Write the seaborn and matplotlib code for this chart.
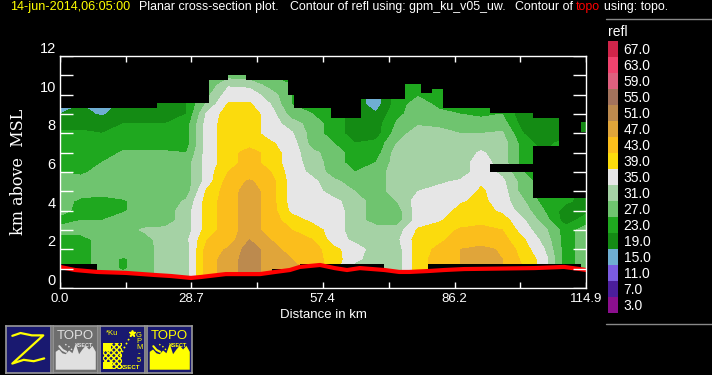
import numpy as np
import pandas as pd
import seaborn as sns
import matplotlib
matplotlib.use("Agg")
import matplotlib.pyplot as plt
from matplotlib.colors import ListedColormap

# legend levels, top to bottom like the colour key
key_levels = [67, 63, 59, 55, 51, 47, 43, 39, 35, 31, 27, 23, 19, 15, 11, 7, 3]
key_colors = ["#D0254A", "#F0436E", "#DE607E", "#A3735C", "#BC8A4E", "#E0A53A", "#FBBE1C", "#FBDB0D",
              "#E6E6E6", "#A5D2A5", "#6FC46F", "#1FA81F", "#148B14", "#6FAED2", "#7B5CE0", "#4B1E9C", "#8B0F8E"]

# reflectivity profiles, one list per distance, heights 0.5 to 11 km
dist_km = [4.6 * i for i in range(26)]
height_km = [0.5 * i for i in range(1, 23)]
refl_profiles = [
    [25, 25, 25, 25, 25, 29, 25, 29, 29, 29, 29, 27, 25, 25, 25, 24, 21, 19, 17, 17, 17, 17],
    [25, 25, 25, 25, 25, 29, 27, 25, 26, 29, 29, 26, 25, 25, 25, 24, 21, 20, 19, 19, 19, 19],
    [29, 29, 29, 29, 29, 29, 27, 25, 25, 29, 29, 29, 27, 25, 25, 23, 21, 18.5, 17, 17, 17, 17],
    [29, 26.5, 26.5, 29, 29, 29.5, 29, 26.5, 26.5, 29, 29, 29, 29, 27.5, 25, 25, 23, 21, 20, 20, 20, 20],
    [29, 29, 29, 29, 29.5, 31.5, 29, 29, 29, 29, 29, 29, 29, 27.5, 25, 25, 23, 21, 21, 21, 21, 21],
    [33, 33, 33, 33, 33, 32, 29, 29, 29, 29, 29, 29, 29, 27.5, 25, 25, 23, 20.5, 20, 20, 20, 20],
    [33, 33, 33, 33, 34, 33, 33, 33, 31.5, 29, 29, 29, 29, 27, 25, 25, 25, 23, 23, 23, 23, 23],
    [45, 45, 45, 45, 43, 41, 41, 41, 41, 40, 37, 37, 37, 37, 37, 37, 37, 36, 32, 30, 28, 28],
    [49, 49, 49, 47.5, 45, 45, 45, 45, 45, 45, 45, 43, 41, 41, 41, 41, 41, 41, 39.5, 37, 34.5, 29],
    [53, 53, 53, 53, 51, 49, 49, 49, 49, 49, 47.5, 45, 45, 45, 41, 41, 41, 41, 39.5, 37, 34, 28],
    [49, 49, 49, 49, 47, 45, 45, 45, 45, 45, 45, 43, 41, 41, 39.5, 37, 37, 37, 35, 33, 29, 27],
    [49, 49, 47, 45, 45, 43, 41, 38, 37, 37, 37, 37, 37, 37, 37, 35.5, 33, 29, 27, 27, 27, 27],
    [45, 45, 45, 45, 43, 41, 38, 37, 37, 37, 36, 34, 33, 32, 29, 29, 29, 27, 25, 25, 25, 25],
    [41, 41, 41, 40, 37, 37, 37, 37, 36, 33, 32, 29, 29, 29, 27, 25, 25, 25, 25, 25, 25, 25],
    [33, 33, 36, 37, 34, 33, 33, 33, 33, 31, 29, 27, 25, 25, 23, 21, 21, 21, 21, 21, 21, 21],
    [33, 33, 33, 33, 33, 33, 29, 29, 29, 29, 29, 29, 27, 25, 24, 21, 21, 19.5, 17, 17, 17, 17],
    [33, 33, 33, 33, 34, 33, 29, 29, 31, 33, 33, 33, 33, 33, 31, 29, 27.5, 26, 25, 25, 25, 25],
    [41, 41, 41, 41, 41, 39.5, 37, 37, 37, 35, 33, 33, 33, 33, 33, 33, 30.5, 29, 29, 26.5, 25, 25],
    [45, 45, 45, 44, 42, 41, 38.5, 37, 37, 36, 34.5, 33, 33, 33, 33, 33, 29.5, 28, 26, 25, 25, 25],
    [45, 47, 47, 47, 45, 43.5, 41, 40, 38.5, 37, 35.5, 33, 33, 33, 33, 31, 29, 27, 25, 25, 25, 25],
    [49, 49, 49, 48, 45, 44, 42, 41, 40, 39.5, 38.5, 37, 37, 35.5, 33, 31, 29, 26, 25, 25, 25, 25],
    [47, 47, 47, 46.5, 44.5, 43, 41, 38, 37, 37, 36, 34, 33, 33, 33, 31.5, 29, 27, 25, 25, 25, 25],
    [43, 43, 42, 41, 39.5, 37, 35.5, 33, 31.5, 29, 29, 27, 25, 25, 25, 23, 21, 20, 20, 20, 20, 20],
    [37, 37, 37, 35, 33.5, 32, 29, 27, 25, 25, 25, 25, 25, 23, 21, 21, 21, 21, 21, 21, 21, 21],
    [25, 25, 25, 25, 25, 25, 21, 21, 24, 25, 25, 25, 25, 25, 25, 21, 21, 21, 21, 21, 21, 21],
    [29, 29, 29, 29, 29, 29, 25, 22, 21, 21, 21, 21, 21, 21, 21, 21, 21, 21, 21, 21, 21, 21],
]

# highest echo along the track (stepped)
top_edges = [0, 21.2, 32.5, 36.7, 40.6, 49.8, 51.1, 59.2, 65.8, 75.4, 78.9, 81.3, 83.7, 93.9, 103.3, 114.9]
top_km = [9.3, 9.55, 10.75, 11.0, 10.75, 10.0, 9.3, 8.8, 9.8, 10.55, 10.1, 10.3, 9.3, 9.05, 8.8]

# lowest echo along the track (stepped)
floor_edges = [0, 8.1, 46.3, 52.4, 70.8, 80.4, 113.8, 114.9]
floor_km = [1.25, 0.6, 0.98, 1.25, 0.6, 1.25, 1.0]

# places without echo inside the section
gap_x0 = [103.3, 103.3, 93.9, 109.0, 113.8, 113.8]
gap_x1 = [114.9, 114.9, 103.3, 113.8, 114.9, 114.9]
gap_y0 = [4.66, 6.0, 6.0, 7.3, 7.3, 8.6]
gap_y1 = [6.0, 7.35, 6.4, 12.0, 8.07, 12.0]

# topography
topo_dist = [0, 3.3, 8.1, 14.4, 20.9, 24.2, 28.6, 30.8, 36.2, 43.7, 47.0, 50.2, 52.4, 56.8, 60.0, 62.7, 65.5,
             70.9, 74.1, 76.3, 80.6, 83.9, 88.3, 103.6, 110.1, 113.6, 114.9]
topo_km = [1.09, 0.93, 0.83, 0.78, 0.67, 0.62, 0.52, 0.57, 0.72, 0.72, 0.83, 0.93, 1.09, 1.19, 1.03, 0.93, 1.03,
           0.93, 0.83, 0.83, 0.88, 0.93, 0.98, 1.03, 1.09, 0.98, 0.93]

x_ticks = [0, 14.36, 28.7, 43.1, 57.4, 71.8, 86.2, 100.5, 114.9]
x_labels = ["0.0", "", "28.7", "", "57.4", "", "86.2", "", "114.9"]
y_ticks = list(range(13))
y_labels = ["0", "", "2", "", "4", "", "6", "", "8", "", "10", "", "12"]

# button artwork
ridge = [0.45, 0.5, 0.42, 0.4, 0.48, 0.42, 0.62, 0.4, 0.5, 0.58, 0.5, 0.58, 0.45]
z_x = [0.15, 0.33, 0.58, 0.83, 0.15, 0.40, 0.62, 0.85]
z_y = [0.78, 0.84, 0.79, 0.79, 0.19, 0.27, 0.24, 0.30]

W, H = 712, 375
sns.set_theme(style="ticks", rc={"figure.facecolor": "black", "axes.facecolor": "black", "savefig.facecolor": "black",
                                 "axes.axisbelow": False})
plt.rcParams["font.family"] = ["Liberation Sans", "DejaVu Sans"]


def px_axes(x0, y0, x1, y1):
    return fig.add_axes([x0 / W, 1 - y1 / H, (x1 - x0) / W, (y1 - y0) / H])


def px_text(x, y, s, **kw):
    kw.setdefault("color", "white")
    kw.setdefault("fontsize", 9)
    kw.setdefault("va", "center")
    fig.text(x / W, 1 - y / H, s, **kw)


fig = plt.figure(figsize=(W / 100, H / 100), dpi=100)
ax = px_axes(60, 56, 586, 288)

levels = key_levels[::-1] + [71]
grid = np.array(refl_profiles).T
ax.contourf(dist_km, height_km, grid, levels=levels, colors=key_colors[::-1], antialiased=False)

# black out everything without echo
ax.stairs(top_km, top_edges, baseline=12, fill=True, color="black", lw=0)
ax.stairs(floor_km, floor_edges, baseline=0, fill=True, color="black", lw=0)
for i in range(len(gap_x0)):
    ax.fill_between([gap_x0[i], gap_x1[i]], gap_y0[i], gap_y1[i], color="black", lw=0)
ax.fill_between(topo_dist, 0, topo_km, color="black", lw=0)

topo = pd.DataFrame({"dist": topo_dist, "topo": topo_km})
sns.lineplot(data=topo, x="dist", y="topo", color="#FF0000", lw=3, ax=ax, errorbar=None, estimator=None)

ax.set_xlim(0, 114.9)
ax.set_ylim(0, 12)
ax.set_xlabel("")
ax.set_ylabel("")
ax.set_xticks(x_ticks)
ax.set_xticklabels(x_labels, color="white", fontsize=9.5)
ax.set_yticks(y_ticks)
ax.set_yticklabels(y_labels, color="white", fontsize=10.5, va="bottom")
ax.tick_params(axis="x", length=0, pad=3.5)
ax.tick_params(axis="y", length=0, pad=3)

# inward tick marks drawn on both sides, over the data
ax.vlines(x_ticks, 0, 0.31, color="white", lw=1, zorder=6)
ax.vlines(x_ticks, 11.69, 12, color="white", lw=1, zorder=6)
ax.hlines(y_ticks, 0, 2.84, color="white", lw=1, zorder=6)
ax.hlines(y_ticks, 112.06, 114.9, color="white", lw=1, zorder=6)
for s in ax.spines.values():
    s.set_color("white")
    s.set_linewidth(1)
    s.set_visible(True)
    s.set_zorder(7)

# colour key
key_ax = px_axes(608, 41, 618, 313)
key = pd.DataFrame({"refl": key_levels}, index=[f"{v:.1f}" for v in key_levels])
sns.heatmap(key, ax=key_ax, cmap=ListedColormap(key_colors[::-1]), cbar=False, xticklabels=False, yticklabels=True)
key_ax.set_ylabel("")
key_ax.yaxis.tick_right()
key_ax.tick_params(axis="y", length=0, pad=4, labelcolor="white", labelsize=10, labelrotation=0)
px_text(608, 32, "refl", fontsize=10)
for rule_y in [19, 324]:
    fig.add_artist(plt.Line2D([606 / W, 1], [1 - rule_y / H, 1 - rule_y / H], color="#888888", lw=1))

# title pieces and axis names
px_text(10, 7, "14-jun-2014,06:05:00", color="#FFFF00", fontsize=9.1)
px_text(139, 7, "Planar cross-section plot.", fontsize=8.9)
px_text(290, 7, "Contour of refl using: gpm_ku_v05_uw.", fontsize=8.9)
px_text(515, 7, "Contour of", fontsize=8.9)
px_text(576, 7, "topo", color="#FF0000", fontsize=8.9)
px_text(604, 7, "using: topo.", fontsize=8.9)
px_text(323, 315, "Distance in km", ha="center", fontsize=9.5)
px_text(19, 172, "km above  MSL", rotation=90, ha="center", family="DejaVu Serif", fontsize=11.5)

# button strip
button_x = [5, 52, 99, 146]
button_bg = ["#191970", "#6E6E6E", "#191970", "#191970"]
for i, bx in enumerate(button_x):
    b = px_axes(bx + 0.5, 325.5, bx + 46, 372.5)
    b.set_facecolor(button_bg[i])
    b.set_xlim(0, 1)
    b.set_ylim(0, 1)
    b.set_xticks([])
    b.set_yticks([])
    for s in b.spines.values():
        s.set_color("#999999")
        s.set_linewidth(1.2)
    if i == 0:
        b.plot(z_x, z_y, color="#FFFF00", lw=1.6)
    if i in (1, 3):
        c = "#E0E0E0" if i == 1 else "#FFFF00"
        xs = np.linspace(0.06, 0.94, len(ridge))
        b.fill_between(xs, 0.07, ridge, color=c, lw=0)
        b.text(0.5, 0.77, "TOPO", color=c, fontsize=9.5, ha="center", va="center")
        b.text(0.7, 0.58, "XSECT", color=c, fontsize=4, ha="center", va="center", weight="bold")
        b.plot([0.15, 0.22, 0.3], [0.56, 0.48, 0.44], color=c, lw=1.5)
        b.plot([0.28, 0.36, 0.44], [0.6, 0.55, 0.47], ":", color=c, lw=1)
    if i == 2:
        b.fill_between([0.07, 0.5], 0.07, 0.62, facecolor="none", edgecolor="#FFFF00", hatch="xxxxxx", lw=0)
        b.fill_between([0.07, 0.28], 0.07, 0.22, color="#FFFF00", lw=0)
        b.fill_between([0.07, 0.25], 0.45, 0.62, color="#FFFF00", lw=0)
        b.plot([0.45, 0.72], [0.35, 0.85], ":", color="#FFFF00", lw=1.2)
        b.plot([0.72], [0.85], "*", color="#FFFF00", ms=5)
        b.text(0.28, 0.84, "*Ku", color="#FFFF00", fontsize=5.5, ha="center", va="center")
        b.text(0.87, 0.53, "G\nP\nM\n-\n5", color="#FFFF00", fontsize=5.5, ha="center", va="center", linespacing=0.85)
        b.text(0.68, 0.1, "XSECT", color="#FFFF00", fontsize=4.4, ha="center", va="center", weight="bold")

fig.savefig("out.png", dpi=100)
